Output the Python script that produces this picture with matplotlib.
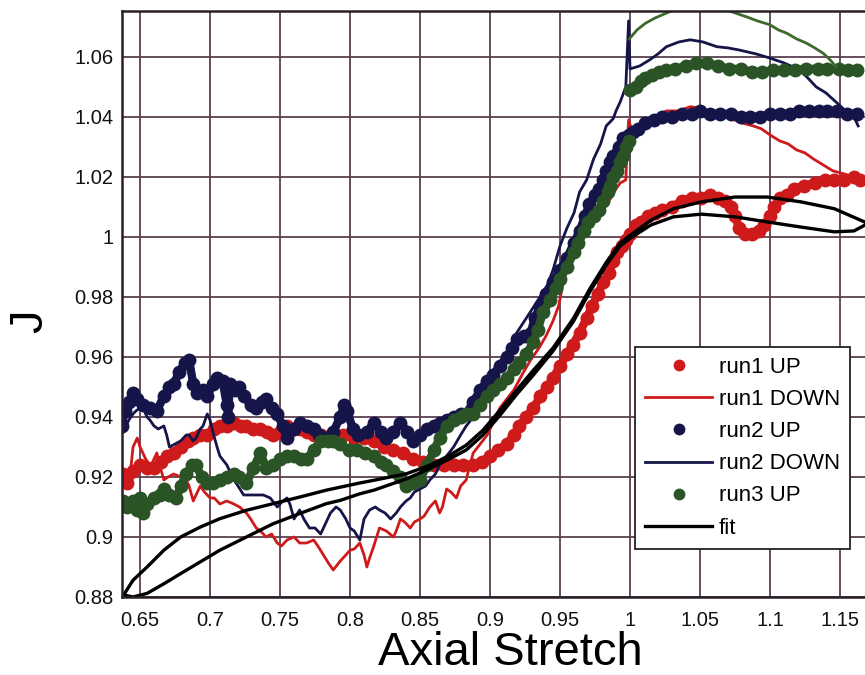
import matplotlib
matplotlib.use("Agg")
import matplotlib.pyplot as plt

plt.rcParams["font.family"] = ["Liberation Sans", "DejaVu Sans"]

# ---------------- data ----------------
run1_up_x = [0.638, 0.641, 0.645, 0.650, 0.655, 0.660, 0.665, 0.669, 0.674, 0.679, 0.684, 0.688,
             0.693, 0.698, 0.703, 0.707, 0.712, 0.717, 0.722, 0.726, 0.731, 0.736, 0.741, 0.745,
             0.750, 0.755, 0.760, 0.764, 0.769, 0.774, 0.779, 0.783, 0.788, 0.795, 0.803, 0.810,
             0.817, 0.824, 0.831, 0.838, 0.845, 0.852, 0.860, 0.867, 0.874, 0.881, 0.888, 0.894,
             0.900, 0.906, 0.912, 0.917, 0.921, 0.926, 0.931, 0.936, 0.941, 0.945, 0.950, 0.955,
             0.959, 0.964, 0.969, 0.973, 0.977, 0.981, 0.985, 0.988, 0.991, 0.994, 0.997, 1.000,
             1.004, 1.008, 1.013, 1.018, 1.023, 1.030, 1.037, 1.044, 1.051, 1.057, 1.063, 1.068,
             1.072, 1.075, 1.078, 1.082, 1.087, 1.092, 1.096, 1.100, 1.103, 1.107, 1.112, 1.117,
             1.124, 1.132, 1.139, 1.146, 1.153, 1.160, 1.164]
run1_up_y = [0.921, 0.918, 0.922, 0.924, 0.923, 0.923, 0.925, 0.927, 0.928, 0.930, 0.932, 0.933,
             0.934, 0.934, 0.936, 0.937, 0.937, 0.938, 0.937, 0.937, 0.936, 0.936, 0.935, 0.934,
             0.935, 0.937, 0.936, 0.936, 0.935, 0.934, 0.934, 0.933, 0.933, 0.934, 0.933, 0.933,
             0.932, 0.930, 0.929, 0.928, 0.926, 0.925, 0.924, 0.924, 0.924, 0.924, 0.924, 0.925,
             0.927, 0.929, 0.931, 0.934, 0.937, 0.940, 0.943, 0.947, 0.950, 0.953, 0.957, 0.961,
             0.964, 0.968, 0.973, 0.977, 0.981, 0.985, 0.988, 0.992, 0.995, 0.997, 0.999, 1.001,
             1.004, 1.005, 1.007, 1.008, 1.009, 1.010, 1.012, 1.013, 1.013, 1.014, 1.013, 1.012,
             1.010, 1.007, 1.003, 1.001, 1.001, 1.002, 1.004, 1.007, 1.010, 1.013, 1.014, 1.016,
             1.017, 1.018, 1.019, 1.019, 1.019, 1.020, 1.019]

run1_down_x = [1.160, 1.153, 1.145, 1.138, 1.131, 1.125, 1.119, 1.113, 1.107, 1.100, 1.094, 1.088,
               1.080, 1.069, 1.060, 1.050, 1.043, 1.035, 1.026, 1.018, 1.012, 1.005, 1.001, 0.999,
               0.998, 0.997, 0.993, 0.990, 0.985, 0.980, 0.975, 0.970, 0.965, 0.960, 0.955, 0.952,
               0.949, 0.945, 0.940, 0.935, 0.929, 0.924, 0.917, 0.912, 0.907, 0.902, 0.898, 0.893,
               0.888, 0.885, 0.883, 0.879, 0.876, 0.872, 0.869, 0.866, 0.864, 0.861, 0.857, 0.853,
               0.850, 0.846, 0.843, 0.839, 0.836, 0.833, 0.831, 0.826, 0.821, 0.817, 0.814, 0.812,
               0.810, 0.807, 0.803, 0.800, 0.797, 0.793, 0.788, 0.785, 0.781, 0.777, 0.774, 0.769,
               0.764, 0.760, 0.755, 0.751, 0.748, 0.744, 0.740, 0.736, 0.733, 0.729, 0.726, 0.721,
               0.717, 0.712, 0.707, 0.703, 0.700, 0.696, 0.693, 0.690, 0.688, 0.685, 0.683, 0.679,
               0.674, 0.670, 0.667, 0.664, 0.662, 0.659, 0.657, 0.654, 0.652, 0.650, 0.648, 0.646,
               0.645, 0.643, 0.639, 0.637]
run1_down_y = [1.020, 1.021, 1.022, 1.024, 1.026, 1.028, 1.029, 1.031, 1.032, 1.034, 1.036, 1.037,
               1.038, 1.040, 1.041, 1.043, 1.0434, 1.042, 1.042, 1.040, 1.039, 1.037, 1.036, 1.039,
               1.030, 1.019, 1.018, 1.016, 1.012, 1.009, 1.006, 1.002, 0.998, 0.995, 0.991, 0.984,
               0.977, 0.972, 0.967, 0.963, 0.959, 0.955, 0.949, 0.946, 0.943, 0.938, 0.934, 0.931,
               0.928, 0.923, 0.919, 0.917, 0.913, 0.915, 0.916, 0.910, 0.908, 0.912, 0.910, 0.907,
               0.906, 0.905, 0.903, 0.905, 0.906, 0.902, 0.900, 0.902, 0.903, 0.897, 0.893, 0.890,
               0.894, 0.898, 0.896, 0.8956, 0.894, 0.892, 0.889, 0.891, 0.894, 0.897, 0.899, 0.898,
               0.898, 0.900, 0.899, 0.897, 0.898, 0.901, 0.900, 0.902, 0.903, 0.906, 0.908, 0.910,
               0.911, 0.912, 0.911, 0.913, 0.913, 0.915, 0.917, 0.914, 0.912, 0.917, 0.919, 0.920,
               0.921, 0.920, 0.919, 0.924, 0.928, 0.925, 0.924, 0.926, 0.928, 0.930, 0.933, 0.931,
               0.930, 0.921, 0.918, 0.917]

run2_up_x = [0.637, 0.639, 0.642, 0.645, 0.648, 0.652, 0.657, 0.662, 0.667, 0.671, 0.674, 0.678,
             0.682, 0.685, 0.688, 0.691, 0.695, 0.698, 0.702, 0.705, 0.709, 0.712, 0.713, 0.714,
             0.718, 0.721, 0.724, 0.729, 0.733, 0.737, 0.740, 0.744, 0.748, 0.752, 0.755, 0.760,
             0.764, 0.769, 0.774, 0.778, 0.783, 0.788, 0.793, 0.796, 0.798, 0.802, 0.806, 0.812,
             0.817, 0.822, 0.826, 0.831, 0.836, 0.841, 0.845, 0.850, 0.855, 0.860, 0.864, 0.869,
             0.874, 0.879, 0.883, 0.888, 0.893, 0.898, 0.902, 0.907, 0.912, 0.916, 0.919, 0.924,
             0.929, 0.932, 0.936, 0.940, 0.945, 0.950, 0.955, 0.960, 0.964, 0.968, 0.971, 0.975,
             0.978, 0.981, 0.983, 0.986, 0.988, 0.992, 0.995, 0.999, 1.002, 1.006, 1.011, 1.017,
             1.023, 1.030, 1.037, 1.044, 1.050, 1.057, 1.064, 1.072, 1.079, 1.086, 1.093, 1.100,
             1.107, 1.114, 1.121, 1.128, 1.135, 1.141, 1.148, 1.155, 1.162]
run2_up_y = [0.937, 0.942, 0.945, 0.948, 0.946, 0.944, 0.943, 0.942, 0.947, 0.950, 0.951, 0.955,
             0.958, 0.959, 0.951, 0.948, 0.949, 0.947, 0.951, 0.953, 0.952, 0.944, 0.940, 0.951,
             0.949, 0.950, 0.947, 0.944, 0.943, 0.945, 0.946, 0.943, 0.941, 0.937, 0.933, 0.936,
             0.938, 0.937, 0.936, 0.934, 0.933, 0.935, 0.940, 0.944, 0.942, 0.936, 0.934, 0.935,
             0.938, 0.935, 0.933, 0.935, 0.938, 0.935, 0.932, 0.934, 0.936, 0.937, 0.938, 0.939,
             0.940, 0.941, 0.941, 0.945, 0.949, 0.952, 0.954, 0.957, 0.960, 0.963, 0.966, 0.967,
             0.968, 0.973, 0.977, 0.981, 0.985, 0.989, 0.993, 0.998, 1.002, 1.007, 1.011, 1.014,
             1.016, 1.019, 1.022, 1.025, 1.027, 1.030, 1.033, 1.034, 1.035, 1.036, 1.038, 1.039,
             1.040, 1.040, 1.041, 1.041, 1.042, 1.041, 1.041, 1.041, 1.040, 1.040, 1.040, 1.041,
             1.041, 1.041, 1.042, 1.042, 1.042, 1.042, 1.042, 1.041, 1.041]

run2_down_x = [1.163, 1.160, 1.154, 1.148, 1.140, 1.133, 1.127, 1.121, 1.110, 1.100, 1.090, 1.078,
               1.070, 1.062, 1.052, 1.043, 1.035, 1.026, 1.020, 1.014, 1.007, 1.000, 0.999, 0.997,
               0.993, 0.990, 0.988, 0.983, 0.979, 0.974, 0.969, 0.964, 0.960, 0.955, 0.950, 0.945,
               0.941, 0.933, 0.926, 0.919, 0.917, 0.912, 0.907, 0.903, 0.900, 0.897, 0.893, 0.888,
               0.883, 0.879, 0.874, 0.869, 0.864, 0.861, 0.857, 0.854, 0.850, 0.846, 0.843, 0.840,
               0.836, 0.833, 0.829, 0.825, 0.821, 0.818, 0.814, 0.810, 0.807, 0.803, 0.800, 0.797,
               0.793, 0.790, 0.786, 0.782, 0.779, 0.775, 0.771, 0.767, 0.764, 0.760, 0.757, 0.755,
               0.752, 0.748, 0.743, 0.738, 0.731, 0.724, 0.720, 0.717, 0.714, 0.712, 0.707, 0.705,
               0.702, 0.700, 0.698, 0.695, 0.693, 0.690, 0.688, 0.685, 0.683, 0.679, 0.675, 0.671,
               0.669, 0.667, 0.663, 0.660, 0.657, 0.655, 0.652, 0.650, 0.647, 0.645, 0.642, 0.640,
               0.638]
run2_down_y = [1.037, 1.040, 1.042, 1.0446, 1.048, 1.050, 1.053, 1.0557, 1.058, 1.0596, 1.061, 1.0623,
               1.063, 1.0634, 1.065, 1.0657, 1.065, 1.0634, 1.061, 1.059, 1.057, 1.056, 1.072, 1.050,
               1.045, 1.042, 1.0394, 1.037, 1.031, 1.026, 1.019, 1.015, 1.008, 1.003, 0.997, 0.989,
               0.984, 0.978, 0.973, 0.968, 0.966, 0.961, 0.957, 0.953, 0.951, 0.947, 0.943, 0.940,
               0.937, 0.934, 0.930, 0.927, 0.924, 0.921, 0.919, 0.917, 0.916, 0.915, 0.913, 0.912,
               0.910, 0.908, 0.906, 0.908, 0.909, 0.910, 0.909, 0.906, 0.899, 0.902, 0.903, 0.906,
               0.909, 0.910, 0.908, 0.904, 0.901, 0.903, 0.903, 0.906, 0.909, 0.906, 0.911, 0.913,
               0.912, 0.910, 0.913, 0.914, 0.914, 0.914, 0.917, 0.919, 0.922, 0.924, 0.927, 0.930,
               0.935, 0.939, 0.941, 0.937, 0.936, 0.933, 0.932, 0.934, 0.934, 0.932, 0.931, 0.930,
               0.934, 0.937, 0.936, 0.937, 0.939, 0.940, 0.943, 0.943, 0.942, 0.941, 0.939, 0.937,
               0.935]

run3_up_x = [0.638, 0.641, 0.645, 0.648, 0.650, 0.652, 0.655, 0.660, 0.664, 0.667, 0.671, 0.676,
             0.679, 0.683, 0.687, 0.690, 0.694, 0.698, 0.702, 0.707, 0.712, 0.717, 0.721, 0.726,
             0.731, 0.736, 0.740, 0.745, 0.750, 0.755, 0.760, 0.765, 0.769, 0.774, 0.779, 0.784,
             0.788, 0.793, 0.799, 0.805, 0.811, 0.817, 0.822, 0.826, 0.831, 0.836, 0.840, 0.845,
             0.850, 0.855, 0.860, 0.864, 0.869, 0.874, 0.879, 0.883, 0.888, 0.893, 0.898, 0.902,
             0.907, 0.912, 0.917, 0.921, 0.926, 0.931, 0.934, 0.938, 0.943, 0.947, 0.950, 0.955,
             0.960, 0.963, 0.967, 0.970, 0.974, 0.978, 0.981, 0.984, 0.986, 0.988, 0.991, 0.993,
             0.995, 0.997, 0.999, 1.000, 1.004, 1.008, 1.011, 1.016, 1.021, 1.026, 1.032, 1.040,
             1.047, 1.055, 1.063, 1.071, 1.079, 1.087, 1.094, 1.102, 1.110, 1.118, 1.126, 1.134,
             1.141, 1.149, 1.156, 1.162]
run3_up_y = [0.912, 0.910, 0.912, 0.909, 0.913, 0.908, 0.911, 0.913, 0.914, 0.916, 0.914, 0.913,
             0.917, 0.921, 0.924, 0.924, 0.920, 0.918, 0.918, 0.919, 0.920, 0.921, 0.920, 0.918,
             0.923, 0.928, 0.923, 0.924, 0.926, 0.927, 0.927, 0.926, 0.926, 0.929, 0.932, 0.932,
             0.932, 0.931, 0.929, 0.929, 0.928, 0.927, 0.925, 0.924, 0.922, 0.920, 0.917, 0.918,
             0.919, 0.924, 0.929, 0.933, 0.937, 0.939, 0.940, 0.941, 0.941, 0.944, 0.947, 0.949,
             0.951, 0.953, 0.956, 0.958, 0.961, 0.965, 0.969, 0.975, 0.979, 0.983, 0.986, 0.990,
             0.995, 0.998, 1.002, 1.005, 1.007, 1.009, 1.012, 1.015, 1.017, 1.020, 1.022, 1.025,
             1.027, 1.030, 1.032, 1.049, 1.050, 1.052, 1.053, 1.054, 1.055, 1.0557, 1.056, 1.057,
             1.058, 1.058, 1.057, 1.056, 1.056, 1.055, 1.055, 1.0555, 1.0555, 1.0557, 1.056, 1.056,
             1.056, 1.056, 1.0555, 1.0555]

run3_down_x = [0.9995, 1.005, 1.011, 1.018, 1.026, 1.033, 1.040, 1.047, 1.054, 1.062, 1.069, 1.076,
               1.083, 1.091, 1.100, 1.106, 1.112, 1.119, 1.126, 1.132, 1.138, 1.143, 1.147]
run3_down_y = [1.066, 1.069, 1.0712, 1.073, 1.0746, 1.076, 1.0768, 1.077, 1.0768, 1.0763, 1.0757,
               1.0745, 1.0734, 1.072, 1.0707, 1.069, 1.0679, 1.066, 1.0646, 1.063, 1.0612, 1.059,
               1.0568]

# model fit: closed loop (loading branch out, unloading branch back)
fit_x = [0.639, 0.645, 0.655, 0.667, 0.679, 0.693, 0.707, 0.726, 0.745, 0.764, 0.783, 0.807,
         0.817, 0.8405, 0.857, 0.871, 0.883, 0.895, 0.907, 0.919, 0.931, 0.945, 0.9595, 0.9714,
         0.9833, 0.993, 1.000, 1.015, 1.031, 1.051, 1.075, 1.098, 1.122, 1.146, 1.170,
         1.160, 1.146, 1.122, 1.098, 1.075, 1.051, 1.031, 1.015, 1.000, 0.993, 0.9833, 0.9714,
         0.9595, 0.945, 0.931, 0.919, 0.907, 0.895, 0.883, 0.871, 0.857, 0.8405, 0.817, 0.807,
         0.793, 0.783, 0.764, 0.745, 0.726, 0.707, 0.693, 0.679, 0.667, 0.655, 0.645, 0.639]
fit_y = [0.8812, 0.8856, 0.890, 0.8956, 0.900, 0.9033, 0.9061, 0.9089, 0.9111, 0.9133, 0.9156, 0.9180,
         0.9189, 0.9211, 0.9239, 0.9272, 0.9306, 0.9356, 0.9422, 0.9489, 0.9556, 0.9630, 0.9728, 0.9828,
         0.9917, 0.9980, 1.0005, 1.0056, 1.0094, 1.0117, 1.0133, 1.0133, 1.0117, 1.0094, 1.0045,
         1.0020, 1.0017, 1.0033, 1.0050, 1.0067, 1.0076, 1.0067, 1.0040, 0.9995, 0.9970, 0.9908, 0.9818,
         0.9718, 0.9620, 0.9540, 0.9475, 0.9405, 0.9340, 0.9290, 0.9260, 0.9228, 0.9194, 0.9156, 0.9144,
         0.9122, 0.9111, 0.9078, 0.9044, 0.9000, 0.8956, 0.8917, 0.8878, 0.8844, 0.8812, 0.8800, 0.8806]

x_ticks = [0.65, 0.7, 0.75, 0.8, 0.85, 0.9, 0.95, 1.0, 1.05, 1.1, 1.15]
x_tick_labels = ["0.65", "0.7", "0.75", "0.8", "0.85", "0.9", "0.95", "1", "1.05", "1.1", "1.15"]
y_ticks = [0.88, 0.9, 0.92, 0.94, 0.96, 0.98, 1.0, 1.02, 1.04, 1.06]
y_tick_labels = ["0.88", "0.9", "0.92", "0.94", "0.96", "0.98", "1", "1.02", "1.04", "1.06"]

# ---------------- style ----------------
RED = "#cf1a1c"
NAVY = "#15154a"
GREEN = "#2b5426"
GREEN_LINE = "#3d6a2c"
GRID = "#5b4150"
MS = 10
BAND = 6.0


def dotted_run(ax, xs, ys, color, label):
    """Densely sampled measurement: dots joined into a band (split where the trace jumps)."""
    breaks = [0] + [i for i in range(1, len(ys)) if abs(ys[i] - ys[i - 1]) > 0.012] + [len(ys)]
    for a, b in zip(breaks[:-1], breaks[1:]):
        ax.plot(xs[a:b], ys[a:b], "-", color=color, lw=BAND, solid_capstyle="round",
                solid_joinstyle="round")
    ax.plot(xs, ys, "o", color=color, ms=MS, mec="none", label=label)


fig = plt.figure(figsize=(8.65, 6.75), dpi=100)
ax = fig.add_axes([122 / 865, 78 / 675, 745 / 865, 586 / 675])

dotted_run(ax, run1_up_x, run1_up_y, RED, "run1 UP")
ax.plot(run1_down_x, run1_down_y, "-", color=RED, lw=2.0, label="run1 DOWN")
dotted_run(ax, run2_up_x, run2_up_y, NAVY, "run2 UP")
ax.plot(run2_down_x, run2_down_y, "-", color=NAVY, lw=2.0, label="run2 DOWN")
dotted_run(ax, run3_up_x, run3_up_y, GREEN, "run3 UP")
ax.plot(run3_down_x, run3_down_y, "-", color=GREEN_LINE, lw=2.0, label="_nolegend_")
ax.plot(fit_x, fit_y, "-", color="black", lw=2.4, label="fit")

ax.set_xlim(0.6371, 1.1693)
ax.set_ylim(0.88, 1.0753)
ax.set_xticks(x_ticks)
ax.set_xticklabels(x_tick_labels)
ax.set_yticks(y_ticks)
ax.set_yticklabels(y_tick_labels)
ax.tick_params(length=0, labelsize=14.5, colors="#111111")
ax.tick_params(axis="x", pad=10)
ax.tick_params(axis="y", pad=6)
ax.grid(True, color=GRID, lw=1.3)
ax.set_axisbelow(True)
for side in ("left", "bottom", "top"):
    ax.spines[side].set_color("#2a1f28")
    ax.spines[side].set_linewidth(1.8)
ax.spines["right"].set_visible(False)

ax.set_xlabel("Axial Stretch", fontsize=34, va="baseline")
ax.xaxis.set_label_coords((509 - 122) / 743, -(665 - 597) / 586)
ax.set_ylabel("J", fontsize=34, rotation=90, va="center", ha="center")
ax.yaxis.set_label_coords((30 - 122) / 743, (597 - 321) / 586)

leg = ax.legend(loc="upper left", bbox_to_anchor=((634 - 122) / 743, (597 - 347) / 586),
                borderaxespad=0, fontsize=16, frameon=True, fancybox=False,
                edgecolor="#222222", framealpha=1, handlelength=3.0, handletextpad=0.3,
                labelspacing=0.5, borderpad=0.45, numpoints=1, markerscale=0.85)
leg.get_frame().set_linewidth(1.3)

fig.savefig("out.png", dpi=100, facecolor="white")
